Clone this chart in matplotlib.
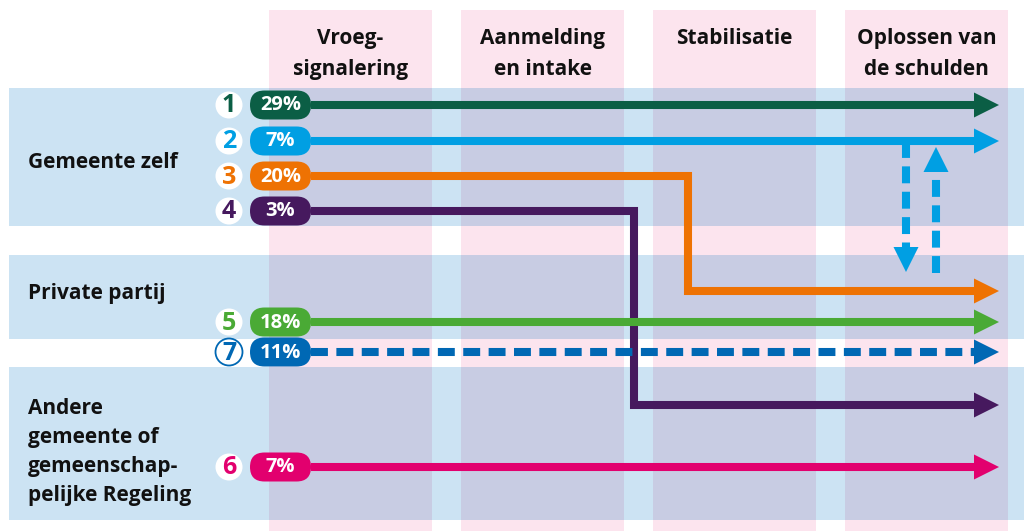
import matplotlib
matplotlib.use("Agg")
import matplotlib.pyplot as plt
from matplotlib.patches import Rectangle, FancyBboxPatch, Circle, Polygon

plt.rcParams["font.family"] = ["Open Sans", "DejaVu Sans"]

# ── data ──────────────────────────────────────────────────────────────────────
phases = ["Vroeg-\nsignalering", "Aanmelding\nen intake", "Stabilisatie",
          "Oplossen van\nde schulden"]
parties = ["Gemeente zelf", "Private partij",
           "Andere\ngemeente of\ngemeenschap-\npelijke Regeling"]
route_ids = ["1", "2", "3", "4", "5", "7", "6"]
route_pct = [29, 7, 20, 3, 18, 11, 7]
route_colors = ["#0B5E45", "#009FE3", "#EE7203", "#46195E",
                "#4AAA35", "#0068B4", "#E2006E"]

# ── layout (pixel-like axis units, y downwards) ───────────────────────────────
W, H = 1024, 531
col_x = [(269, 432), (461, 624), (653, 816), (845, 1008)]
col_top = 10
row_y = [(88, 226), (255, 339), (367, 520)]
row_label_y = [163, 293, 452]
route_y = [105, 141, 176, 211, 322, 352, 467]
# bends: (x of vertical segment, target y) for routes that switch party
bends = {2: (688, 291), 3: (634, 405)}
x_start, x_tip = 311, 999

PINK, BLUE, MIX = "#FCE4EE", "#CCE3F3", "#C8CCE3"

fig = plt.figure(figsize=(W / 100, H / 100), dpi=100)
ax = fig.add_axes([0, 0, 1, 1])
ax.set_xlim(0, W)
ax.set_ylim(H, 0)
ax.axis("off")

# background grid of bands
for (x0, x1) in col_x:
    ax.add_patch(Rectangle((x0, col_top), x1 - x0, H - col_top, color=PINK, lw=0, zorder=0))
for (y0, y1) in row_y:
    ax.add_patch(Rectangle((9, y0), W - 9, y1 - y0, color=BLUE, lw=0, zorder=1))
    for (x0, x1) in col_x:
        ax.add_patch(Rectangle((x0, y0), x1 - x0, y1 - y0, color=MIX, lw=0, zorder=2))

# headers and row labels
for (x0, x1), name in zip(col_x, phases):
    ax.text((x0 + x1) / 2, 28, name, ha="center", va="top", fontsize=15,
            fontweight="bold", linespacing=1.6, color="#111111", zorder=5)
for y, name in zip(row_label_y, parties):
    ax.text(28, y, name, ha="left", va="center", fontsize=15,
            fontweight="bold", linespacing=1.5, color="#111111", zorder=5)

LW = 5.8
HEAD_L, HEAD_W = 25, 25


def head(x, y, color, direction="right"):
    if direction == "right":
        pts = [(x, y), (x - HEAD_L, y - HEAD_W / 2), (x - HEAD_L, y + HEAD_W / 2)]
    elif direction == "down":
        pts = [(x, y), (x - HEAD_W / 2, y - HEAD_L), (x + HEAD_W / 2, y - HEAD_L)]
    else:
        pts = [(x, y), (x - HEAD_W / 2, y + HEAD_L), (x + HEAD_W / 2, y + HEAD_L)]
    ax.add_patch(Polygon(pts, closed=True, color=color, lw=0, zorder=6))


# routes
for i, (rid, pct, c, y) in enumerate(zip(route_ids, route_pct, route_colors, route_y)):
    if i in bends:
        bx, ty = bends[i]
        xs, ys = [x_start, bx, bx, x_tip - HEAD_L + 2], [y, y, ty, ty]
        end_y = ty
    else:
        xs, ys = [x_start, x_tip - HEAD_L + 2], [y, y]
        end_y = y
    if rid == "7":
        ax.plot(xs, ys, color=c, lw=LW, ls=(0, (2.1, 1.05)), solid_capstyle="butt",
                dash_capstyle="butt", zorder=5)
    else:
        ax.plot(xs, ys, color=c, lw=LW, solid_joinstyle="miter",
                solid_capstyle="butt", zorder=5)
    head(x_tip, end_y, c)

    # percentage pill
    ax.add_patch(FancyBboxPatch((250, y - 14.5), 61, 29,
                                boxstyle="round,pad=0,rounding_size=14.5",
                                fc=c, ec="none", zorder=7))
    ax.text(280.5, y + 0.5, f"{pct}%", ha="center", va="center", color="white",
            fontsize=14.5, fontweight="bold", zorder=8)
    # route number
    if rid == "7":
        ax.add_patch(Circle((229, y), 13.5, fc="white", ec=c, lw=1.3, zorder=7))
    else:
        ax.add_patch(Circle((229, y), 13.5, fc="white", ec="none", zorder=7))
    ax.text(229, y + 1, rid, ha="center", va="center", color=c,
            fontsize=18, fontweight="bold", zorder=8)

# dashed switching arrows for route 2
c2 = route_colors[1]
ax.plot([906, 906], [141, 272 - HEAD_L + 2], color=c2, lw=LW,
        ls=(0, (2.1, 1.05)), dash_capstyle="butt", zorder=5)
head(906, 272, c2, "down")
ax.plot([936, 936], [273, 147 + HEAD_L - 2], color=c2, lw=LW,
        ls=(0, (2.1, 1.05)), dash_capstyle="butt", zorder=5)
head(936, 147, c2, "up")

fig.savefig("out.png", dpi=100)
